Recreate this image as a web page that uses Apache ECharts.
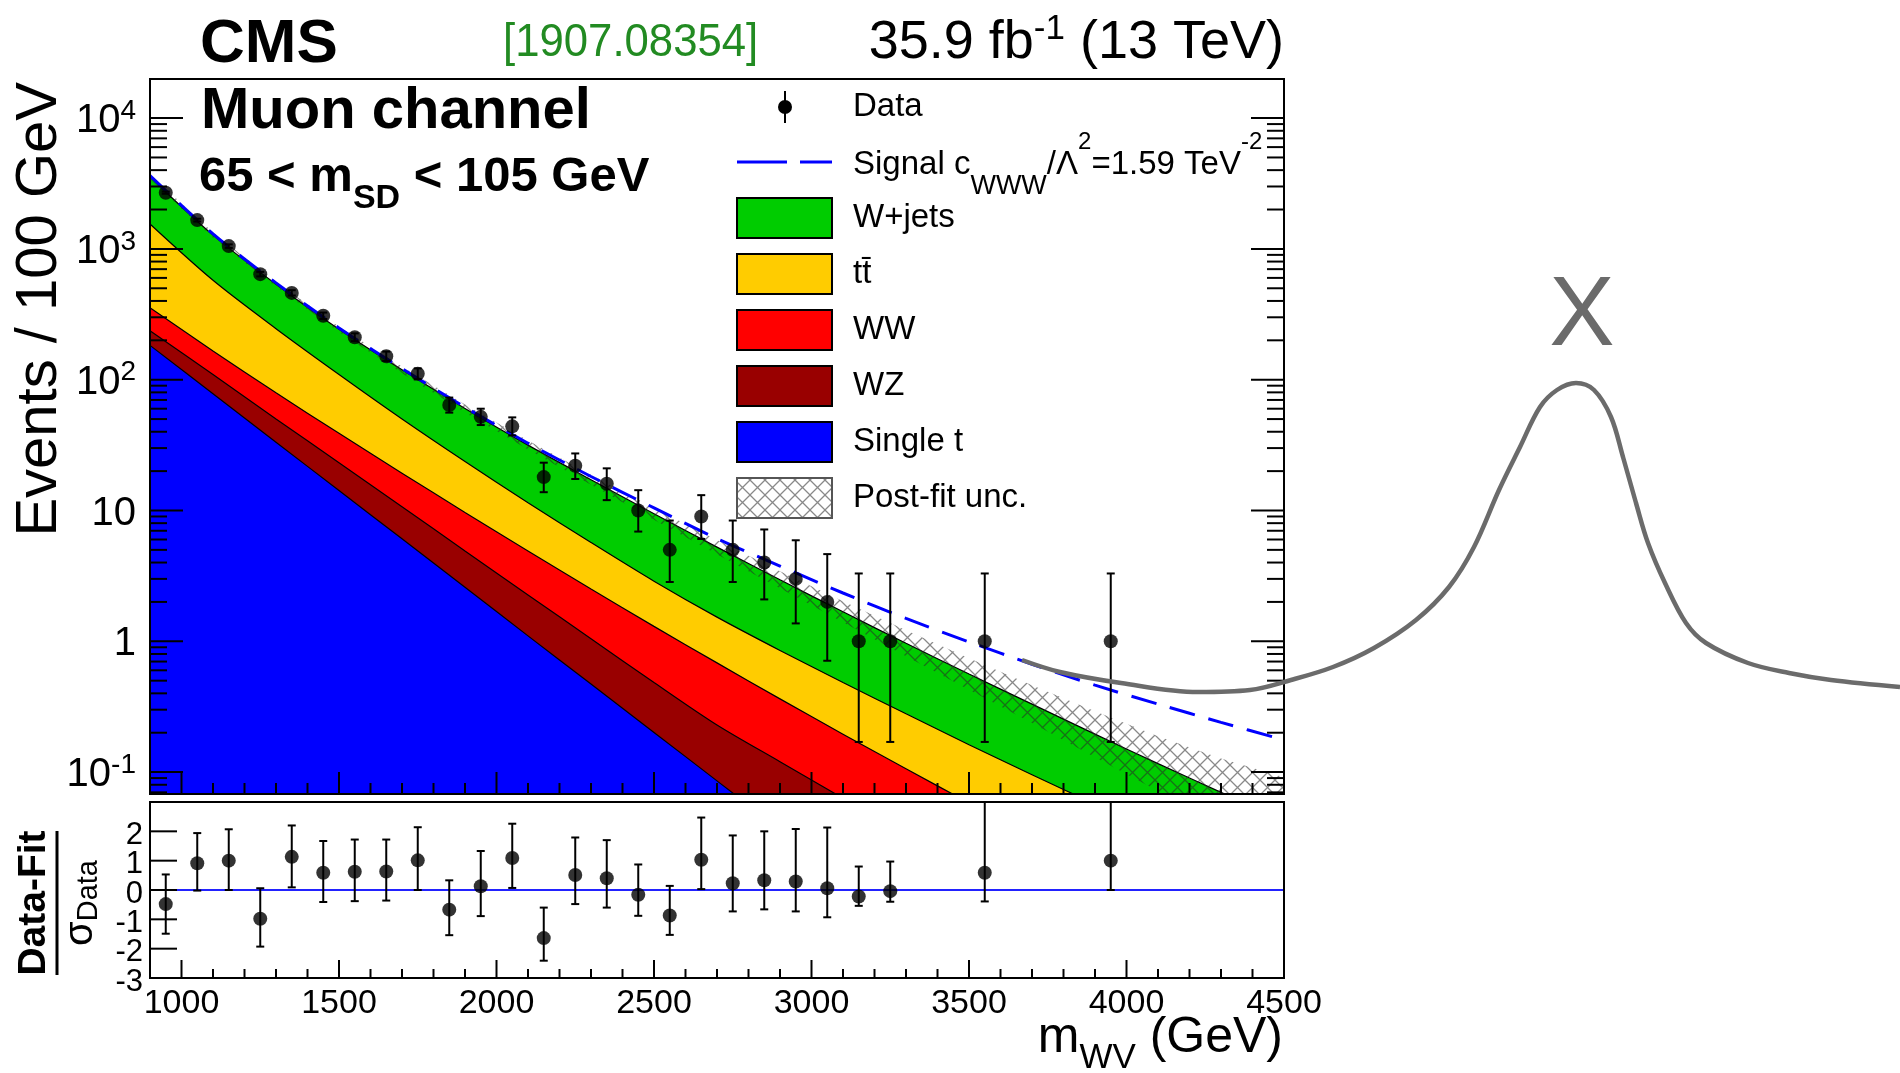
<!DOCTYPE html>
<html>
<head>
<meta charset="utf-8">
<title>CMS mWV muon channel</title>
<script src="https://cdn.jsdelivr.net/npm/echarts@6/dist/echarts.min.js"></script>
<style>
  html, body { margin: 0; padding: 0; background: #fff; }
  #chart { width: 1900px; height: 1073px; }
</style>
</head>
<body>
<div id="chart"></div>
<script>
// ---------- values ----------
// data points (bin centres, events / 100 GeV, poisson error bar ends)
const binCentres  = [950, 1050, 1150, 1250, 1350, 1450, 1550, 1650, 1750, 1850, 1950, 2050, 2150, 2250, 2350, 2450, 2550, 2650, 2750, 2850, 2950, 3050, 3150, 3250, 3550, 3950];
const dataEvents  = [2690, 1660, 1050, 641, 461, 308, 211, 151, 111, 64, 52, 44, 18, 22, 16, 10, 5, 9, 5, 4, 3, 2, 1, 1, 1, 1];
const dataErrDown = [2638, 1619, 1018, 616, 440, 291, 197, 139, 101, 56, 45, 37.5, 13.8, 17.4, 12, 6.9, 2.84, 6.06, 2.84, 2.09, 1.37, 0.71, 0.17, 0.17, 0.17, 0.17];
const dataErrUp   = [2742, 1701, 1083, 667, 483, 326, 226, 164, 122, 73, 60, 51.5, 23.2, 27.3, 21, 14.3, 8.38, 13.1, 8.38, 7.16, 5.92, 4.64, 3.3, 3.3, 3.3, 3.3];

// lower pad: (data-fit)/sigma
const pullValues  = [-0.48, 0.91, 1.0, -0.98, 1.13, 0.59, 0.62, 0.63, 1.01, -0.67, 0.13, 1.09, -1.64, 0.51, 0.4, -0.16, -0.87, 1.03, 0.23, 0.33, 0.29, 0.06, -0.22, -0.04, 0.59, 1.0];
const pullErrDown = [-1.49, -0.02, 0.0, -1.93, 0.09, -0.41, -0.38, -0.36, 0.0, -1.54, -0.89, 0.07, -2.41, -0.48, -0.6, -0.88, -1.53, 0.03, -0.73, -0.66, -0.73, -0.93, -0.54, -0.4, -0.39, 0.0];
const pullErrUp   = [0.53, 1.94, 2.07, 0.06, 2.2, 1.67, 1.72, 1.72, 2.14, 0.33, 1.33, 2.26, -0.6, 1.79, 1.7, 0.87, 0.14, 2.47, 1.86, 2.0, 2.08, 2.13, 0.8, 0.97, 3.6, 3.8];

// fit curves, stacked tops (events / 100 GeV)
const fitMass      = [900, 1100, 1300, 1500, 1700, 1900, 2100, 2300, 2500, 2700, 2900, 3100, 3300, 3500, 3700, 3900, 4100, 4300, 4500];
const stackWjets   = [3548, 1274, 537, 243, 119, 60.3, 31.6, 17.2, 9.44, 5.25, 2.95, 1.68, 0.966, 0.562, 0.331, 0.195, 0.116, 0.070, 0.0427];
const stackTTbar   = [1549, 575, 245.5, 109.6, 50.1, 23.7, 11.48, 5.69, 2.88, 1.53, 0.851, 0.484, 0.279, 0.162, 0.0955, 0.0569, 0.0339, 0.0204, 0.0123];
const stackWW      = [354.8, 166, 79.4, 38.9, 19.3, 9.66, 4.90, 2.51, 1.30, 0.684, 0.363, 0.195, 0.106, 0.0582, 0.0324, 0.0180, 0.0100, 0.00562, 0.00316];
const stackWZ      = [237, 109.6, 50.1, 23.2, 10.7, 4.90, 2.26, 1.047, 0.484, 0.229, 0.120, 0.0631, 0.0331, 0.0174, 0.00912, 0.00479, 0.00251, 0.00132, 0.00069];
const stackSingleT = [183, 78.2, 33.3, 14.2, 6.07, 2.59, 1.10, 0.471, 0.201, 0.0857, 0.0366, 0.0156, 0.00665, 0.00284, 0.00121, 0.00052, 0.00022, 0.000094, 0.00004];
const signalTotal  = [3631, 1303, 549.5, 248.3, 121.6, 61.7, 32.7, 18.2, 10.47, 6.10, 3.76, 2.34, 1.496, 0.989, 0.668, 0.462, 0.331, 0.240, 0.176];
const uncHigh      = [3715, 1334, 562, 254, 125.9, 64.6, 34.3, 18.8, 10.47, 5.96, 3.43, 2.02, 1.216, 0.741, 0.462, 0.292, 0.188, 0.127, 0.0912];
const uncLow       = [3388, 1216, 513, 232, 112.2, 56.2, 29.2, 15.7, 8.51, 4.62, 2.54, 1.40, 0.767, 0.427, 0.237, 0.130, 0.0716, 0.0385, 0.020];

// ticks and tick labels
const massMajorTicks = [1000, 1500, 2000, 2500, 3000, 3500, 4000, 4500];
const massTickLabels = ['1000', '1500', '2000', '2500', '3000', '3500', '4000', '4500'];
const massMinorTicks = [1100, 1200, 1300, 1400, 1600, 1700, 1800, 1900, 2100, 2200, 2300, 2400, 2600, 2700, 2800, 2900, 3100, 3200, 3300, 3400, 3600, 3700, 3800, 3900, 4100, 4200, 4300, 4400];
const eventsMajorTicks = [0.1, 1, 10, 100, 1000, 10000];
const eventsLabelBase  = ['10', '1', '10', '10', '10', '10'];
const eventsLabelExp   = ['-1', '', '', '2', '3', '4'];
const eventsMinorTicks = [0.07, 0.08, 0.09, 0.2, 0.3, 0.4, 0.5, 0.6, 0.7, 0.8, 0.9, 2, 3, 4, 5, 6, 7, 8, 9, 20, 30, 40, 50, 60, 70, 80, 90,
                          200, 300, 400, 500, 600, 700, 800, 900, 2000, 3000, 4000, 5000, 6000, 7000, 8000, 9000];
const pullMajorTicks = [-3, -2, -1, 0, 1, 2, 3];
const pullTickLabels = ['-3', '-2', '-1', '0', '1', '2'];

// grey sketch drawn over the right side (own hidden axes, 0..900 x 0..500)
const bumpX = [22, 60, 121, 198, 250, 291, 333, 374, 416, 449, 474, 499, 520, 540, 557, 576, 594, 611, 623, 636, 648, 665, 686, 706, 748, 789, 831, 900];
const bumpY = [90, 78, 67, 58, 60, 70, 83, 102, 130, 163, 203, 260, 303, 343, 360, 367, 360, 333, 293, 247, 207, 167, 127, 107, 87, 77, 70, 63];

// axis ranges
const xMin = 900, xMax = 4500;
const yMinTop = 0.068, yMaxTop = 19900;
const yMinBot = -3, yMaxBot = 3;

const FONT = 'Liberation Sans';

function zip(xs, ys) {
  return xs.map(function (x, i) { return [x, ys[i]]; });
}

function seg(x1, y1, x2, y2, w, c) {
  return { type: 'line', shape: { x1: x1, y1: y1, x2: x2, y2: y2 }, style: { stroke: c || '#000', lineWidth: w || 2 } };
}

// crosshatch for the post-fit uncertainty
function makeHatch(color) {
  const c = document.createElement('canvas');
  c.width = 15; c.height = 15;
  const g = c.getContext('2d');
  g.strokeStyle = color;
  g.lineWidth = 1.3;
  g.beginPath();
  g.moveTo(-2, -2); g.lineTo(17, 17);
  g.moveTo(17, -2); g.lineTo(-2, 17);
  g.stroke();
  return c;
}
const hatch = makeHatch('rgba(40,40,40,0.55)');

const powRich = {
  b: { fontSize: 40, fontFamily: FONT, lineHeight: 48 },
  s: { fontSize: 28, fontFamily: FONT, lineHeight: 20, verticalAlign: 'top' }
};

function renderErrorBars(params, api) {
  const p1 = api.coord([api.value(0), api.value(1)]);
  const p2 = api.coord([api.value(0), api.value(2)]);
  const cap = 4;
  return {
    type: 'group',
    children: [
      seg(p1[0], p1[1], p2[0], p2[1], 2),
      seg(p1[0] - cap, p1[1], p1[0] + cap, p1[1], 2),
      seg(p2[0] - cap, p2[1], p2[0] + cap, p2[1], 2)
    ]
  };
}

function renderBand(params, api) {
  if (params.dataIndex !== 0) return null;
  const top = [], bottom = [];
  for (let i = 0; i < fitMass.length; i++) {
    top.push(api.coord([fitMass[i], uncHigh[i]]));
    bottom.unshift(api.coord([fitMass[i], uncLow[i]]));
  }
  return {
    type: 'polygon',
    shape: { points: top.concat(bottom) },
    style: { fill: { image: hatch, repeat: 'repeat' }, stroke: 'none' }
  };
}

function renderUpperAxes(params, api) {
  const tl = api.coord([xMin, yMaxTop]);
  const br = api.coord([xMax, yMinTop]);
  const kids = [{
    type: 'rect',
    shape: { x: tl[0], y: tl[1], width: br[0] - tl[0], height: br[1] - tl[1] },
    style: { fill: 'none', stroke: '#000', lineWidth: 2 }
  }];
  eventsMajorTicks.forEach(function (v, i) {
    const y = api.coord([xMin, v])[1];
    kids.push(seg(tl[0], y, tl[0] + 33, y), seg(br[0] - 33, y, br[0], y));
    const txt = eventsLabelExp[i] ? '{b|' + eventsLabelBase[i] + '}{s|' + eventsLabelExp[i] + '}' : '{b|' + eventsLabelBase[i] + '}';
    kids.push({
      type: 'text', x: tl[0] - 14, y: y + 3,
      style: { text: txt, rich: powRich, fill: '#000', align: 'right', verticalAlign: 'middle' }
    });
  });
  eventsMinorTicks.forEach(function (v) {
    const y = api.coord([xMin, v])[1];
    kids.push(seg(tl[0], y, tl[0] + 17, y), seg(br[0] - 17, y, br[0], y));
  });
  massMajorTicks.forEach(function (v) {
    const x = api.coord([v, yMinTop])[0];
    kids.push(seg(x, br[1], x, br[1] - 22));
  });
  massMinorTicks.forEach(function (v) {
    const x = api.coord([v, yMinTop])[0];
    kids.push(seg(x, br[1], x, br[1] - 11));
  });
  return { type: 'group', children: kids };
}

function renderLowerAxes(params, api) {
  const tl = api.coord([xMin, yMaxBot]);
  const br = api.coord([xMax, yMinBot]);
  const kids = [{
    type: 'rect',
    shape: { x: tl[0], y: tl[1], width: br[0] - tl[0], height: br[1] - tl[1] },
    style: { fill: 'none', stroke: '#000', lineWidth: 2 }
  }];
  pullMajorTicks.forEach(function (v) {
    const y = api.coord([xMin, v])[1];
    kids.push(seg(tl[0], y, tl[0] + 27, y));
  });
  pullTickLabels.forEach(function (t) {
    const y = api.coord([xMin, Number(t)])[1];
    kids.push({
      type: 'text', x: tl[0] - 7, y: y + 4,
      style: { text: t, fontSize: 31, fontFamily: FONT, fill: '#000', align: 'right', verticalAlign: 'middle' }
    });
  });
  massMajorTicks.forEach(function (v, i) {
    const x = api.coord([v, yMinBot])[0];
    kids.push(seg(x, br[1], x, br[1] - 18));
    kids.push({
      type: 'text', x: x, y: br[1] + 9,
      style: { text: massTickLabels[i], fontSize: 34, fontFamily: FONT, fill: '#000', align: 'center', verticalAlign: 'top' }
    });
  });
  massMinorTicks.forEach(function (v) {
    const x = api.coord([v, yMinBot])[0];
    kids.push(seg(x, br[1], x, br[1] - 9));
  });
  return { type: 'group', children: kids };
}

function stackSeries(name, values, color) {
  return {
    type: 'line', name: name, xAxisIndex: 0, yAxisIndex: 0,
    data: zip(fitMass, values), smooth: 0.3, symbol: 'none', clip: true,
    lineStyle: { color: '#000', width: 1.2 },
    areaStyle: { color: color, opacity: 1, origin: 'start' },
    z: 2, silent: true
  };
}

// ---------- legend + texts ----------
const legendX = 737, legendTextX = 853;
const legendRows = [107, 162, 218, 274, 330, 386, 442, 498];
const graphics = [];

function addText(x, y, text, font, extra, el) {
  const st = Object.assign({ text: text, font: font, fill: '#000', align: 'left', verticalAlign: 'middle' }, extra || {});
  graphics.push(Object.assign({ type: 'text', x: x, y: y, z: 100, style: st }, el || {}));
}

addText(200, 45, 'CMS', 'bold 62px "' + FONT + '"');
addText(503, 43, '[1907.08354]', '47px "' + FONT + '"', { fill: '#228b22' }, { scaleX: 0.93 });
graphics.push({
  type: 'text', x: 1284, y: 43, z: 100,
  style: {
    text: '{m|35.9 fb}{s|-1}{m| (13 TeV)}', fill: '#000', align: 'right', verticalAlign: 'middle',
    rich: {
      m: { fontSize: 54, fontFamily: FONT, lineHeight: 62 },
      s: { fontSize: 35, fontFamily: FONT, lineHeight: 40, verticalAlign: 'top' }
    }
  }
});
addText(201, 112, 'Muon channel', 'bold 58px "' + FONT + '"');
graphics.push({
  type: 'text', x: 199, y: 177, z: 100,
  style: {
    text: '{b|65 < m}{u|SD}{b| < 105 GeV}', fill: '#000', align: 'left', verticalAlign: 'middle',
    rich: {
      b: { fontSize: 49, fontWeight: 'bold', fontFamily: FONT, lineHeight: 78 },
      u: { fontSize: 34, fontWeight: 'bold', fontFamily: FONT, lineHeight: 32, verticalAlign: 'bottom' }
    }
  }
});

// y title, upper pad
graphics.push({
  type: 'text', x: 40, y: 82, rotation: Math.PI / 2, z: 100,
  style: { text: 'Events / 100 GeV', font: '58px "' + FONT + '"', fill: '#000', align: 'right', verticalAlign: 'middle' }
});
// y title, lower pad (fraction)
graphics.push({
  type: 'group', x: 57, y: 903, rotation: Math.PI / 2, z: 100,
  children: [
    { type: 'text', x: 0, y: -3, style: { text: 'Data-Fit', font: 'bold 39px "' + FONT + '"', fill: '#000', align: 'center', verticalAlign: 'bottom' } },
    seg(-72, 0, 72, 0, 3),
    {
      type: 'text', x: 0, y: 2,
      style: {
        text: '{g|σ}{d|Data}', fill: '#000', align: 'center', verticalAlign: 'top',
        rich: {
          g: { fontSize: 40, fontFamily: FONT, lineHeight: 44 },
          d: { fontSize: 29, fontFamily: FONT, lineHeight: 26, verticalAlign: 'bottom' }
        }
      }
    }
  ]
});
// x title
graphics.push({
  type: 'text', x: 1283, y: 1038, z: 100,
  style: {
    text: '{m|m}{u|WV}{m| (GeV)}', fill: '#000', align: 'right', verticalAlign: 'middle',
    rich: {
      m: { fontSize: 50, fontFamily: FONT, lineHeight: 76 },
      u: { fontSize: 35, fontFamily: FONT, lineHeight: 30, verticalAlign: 'bottom' }
    }
  }
});

// legend: data marker
graphics.push(Object.assign(seg(785, 91, 785, 123, 2), { z: 100 }));
graphics.push({ type: 'circle', z: 100, shape: { cx: 785, cy: legendRows[0], r: 7 }, style: { fill: '#000' } });
addText(legendTextX, legendRows[0], 'Data', '33px "' + FONT + '"');
// legend: signal
graphics.push({
  type: 'line', z: 100,
  shape: { x1: legendX, y1: legendRows[1], x2: legendX + 95, y2: legendRows[1] },
  style: { stroke: '#0000ff', lineWidth: 3, lineDash: [50, 13] }
});
graphics.push({
  type: 'text', x: legendTextX, y: legendRows[1] + 3, z: 100,
  style: {
    text: '{t|Signal c}{u|WWW}{t|/Λ}{s|2}{t|=1.59 TeV}{s|-2}', fill: '#000', align: 'left', verticalAlign: 'middle',
    rich: {
      t: { fontSize: 33, fontFamily: FONT, lineHeight: 70 },
      u: { fontSize: 27, fontFamily: FONT, lineHeight: 26, verticalAlign: 'bottom' },
      s: { fontSize: 24, fontFamily: FONT, lineHeight: 60, verticalAlign: 'top' }
    }
  }
});
// legend: filled boxes
const legendBoxes = [
  ['W+jets', '#00cc00'],
  ['tt\u0304', '#ffcc00'],
  ['WW', '#ff0000'],
  ['WZ', '#990000'],
  ['Single t', '#0000ff']
];
legendBoxes.forEach(function (b, i) {
  const cy = legendRows[i + 2];
  graphics.push({
    type: 'rect', z: 100,
    shape: { x: legendX, y: cy - 20, width: 95, height: 40 },
    style: { fill: b[1], stroke: '#000', lineWidth: 2 }
  });
  addText(legendTextX, cy, b[0], '33px "' + FONT + '"');
});
graphics.push({
  type: 'rect', z: 100,
  shape: { x: legendX, y: legendRows[7] - 20, width: 95, height: 40 },
  style: { fill: { image: hatch, repeat: 'repeat' }, stroke: '#555', lineWidth: 2 }
});
addText(legendTextX, legendRows[7], 'Post-fit unc.', '33px "' + FONT + '"');

// grey sketch label
addText(1582, 318, 'X', '98px "' + FONT + '"', { fill: '#6b6b6b', align: 'center' });

// ---------- chart ----------
const chart = echarts.init(document.getElementById('chart'));

const option = {
  animation: false,
  backgroundColor: '#fff',
  textStyle: { fontFamily: FONT },
  grid: [
    { left: 150, top: 79, width: 1134, height: 715 },
    { left: 150, top: 802, width: 1134, height: 176 },
    { left: 1000, top: 250, width: 900, height: 500 }
  ],
  xAxis: [
    { gridIndex: 0, type: 'value', min: xMin, max: xMax, show: false },
    { gridIndex: 1, type: 'value', min: xMin, max: xMax, show: false },
    { gridIndex: 2, type: 'value', min: 0, max: 900, show: false }
  ],
  yAxis: [
    { gridIndex: 0, type: 'log', logBase: 10, min: yMinTop, max: yMaxTop, show: false },
    { gridIndex: 1, type: 'value', min: yMinBot, max: yMaxBot, show: false },
    { gridIndex: 2, type: 'value', min: 0, max: 500, show: false }
  ],
  graphic: graphics,
  series: [
    stackSeries('W+jets', stackWjets, '#00cc00'),
    stackSeries('ttbar', stackTTbar, '#ffcc00'),
    stackSeries('WW', stackWW, '#ff0000'),
    stackSeries('WZ', stackWZ, '#990000'),
    stackSeries('Single t', stackSingleT, '#0000ff'),
    {
      type: 'custom', name: 'Post-fit unc.', xAxisIndex: 0, yAxisIndex: 0,
      data: fitMass.map(function (m, i) { return [m, uncLow[i], uncHigh[i]]; }),
      renderItem: renderBand, clip: true, z: 3, silent: true
    },
    {
      type: 'line', name: 'Signal', xAxisIndex: 0, yAxisIndex: 0,
      data: zip(fitMass, signalTotal), smooth: 0.3, symbol: 'none', clip: true,
      lineStyle: { color: '#0000ff', width: 3, type: [26, 14] }, z: 4, silent: true
    },
    {
      type: 'custom', name: 'Data errors', xAxisIndex: 0, yAxisIndex: 0,
      data: binCentres.map(function (m, i) { return [m, dataErrDown[i], dataErrUp[i]]; }),
      renderItem: renderErrorBars, clip: true, z: 5, silent: true
    },
    {
      type: 'scatter', name: 'Data', xAxisIndex: 0, yAxisIndex: 0,
      data: zip(binCentres, dataEvents), symbol: 'circle', symbolSize: 14,
      itemStyle: { color: '#000' }, z: 6, silent: true
    },
    {
      type: 'custom', name: 'upper frame', xAxisIndex: 0, yAxisIndex: 0,
      data: [[xMin, yMinTop]], renderItem: renderUpperAxes, z: 7, silent: true
    },
    // lower pad
    {
      type: 'custom', name: 'Pull errors', xAxisIndex: 1, yAxisIndex: 1,
      data: binCentres.map(function (m, i) { return [m, pullErrDown[i], pullErrUp[i]]; }),
      renderItem: renderErrorBars, clip: true, z: 5, silent: true
    },
    {
      type: 'scatter', name: 'Pull', xAxisIndex: 1, yAxisIndex: 1,
      data: zip(binCentres, pullValues), symbol: 'circle', symbolSize: 14,
      itemStyle: { color: '#000' }, z: 6, silent: true,
      markLine: {
        silent: true, symbol: 'none', label: { show: false },
        lineStyle: { color: '#2222ff', width: 2, type: 'solid' },
        data: [{ yAxis: 0 }], z: 4
      }
    },
    {
      type: 'custom', name: 'lower frame', xAxisIndex: 1, yAxisIndex: 1,
      data: [[xMin, yMinBot]], renderItem: renderLowerAxes, z: 7, silent: true
    },
    // grey sketch
    {
      type: 'line', name: 'sketch', xAxisIndex: 2, yAxisIndex: 2,
      data: zip(bumpX, bumpY), smooth: 0.35, symbol: 'none', clip: false,
      lineStyle: { color: '#6b6b6b', width: 4.5 }, z: 9, silent: true
    }
  ]
};

chart.setOption(option);
</script>
</body>
</html>
